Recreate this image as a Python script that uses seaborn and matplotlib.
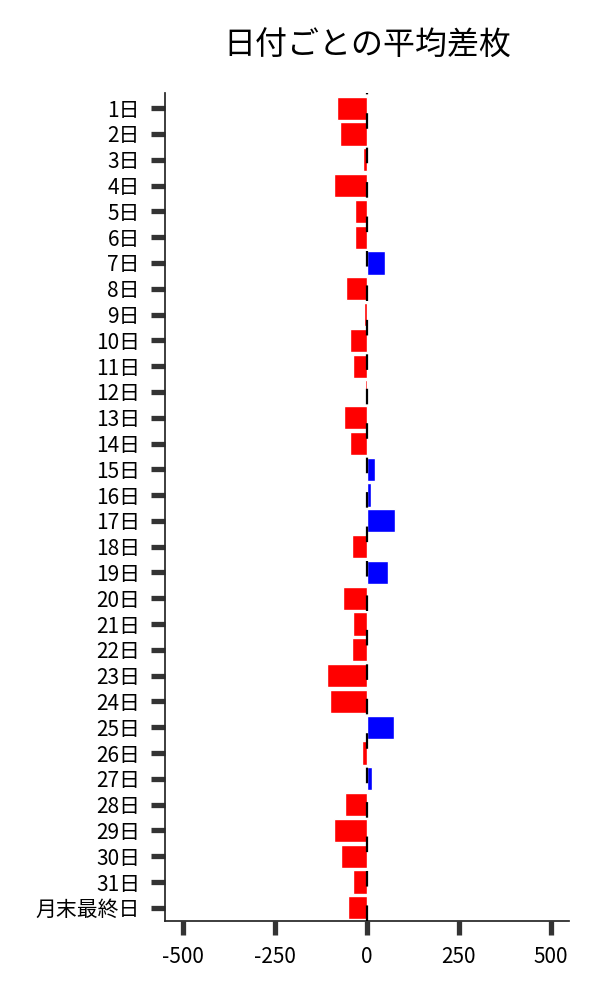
import pandas as pd
import matplotlib.pyplot as plt
import seaborn as sns

# 日付ごとの平均差枚
days = ['1日', '2日', '3日', '4日', '5日', '6日', '7日', '8日', '9日', '10日',
        '11日', '12日', '13日', '14日', '15日', '16日', '17日', '18日', '19日', '20日',
        '21日', '22日', '23日', '24日', '25日', '26日', '27日', '28日', '29日', '30日',
        '31日', '月末最終日']
avg_diff = [-83, -73, -11, -89, -34, -34, 50, -56, -8, -45,
            -37, -5, -62, -45, 22, 11, 77, -41, 57, -65,
            -38, -41, -110, -102, 74, -14, 14, -59, -89, -72,
            -38, -52]
x_ticks = [-500, -250, 0, 250, 500]

df = pd.DataFrame({'day': days, 'diff': avg_diff})
df['sign'] = ['plus' if v > 0 else 'minus' for v in df['diff']]

sns.set_theme(style='ticks')
plt.rcParams['font.family'] = ['Noto Sans CJK JP', 'DejaVu Sans']
plt.rcParams['axes.unicode_minus'] = False

fig, ax = plt.subplots(figsize=(6, 10), dpi=100)
fig.subplots_adjust(left=165 / 600, right=569 / 600, top=1 - 92.7 / 1000, bottom=1 - 920.7 / 1000)

sns.barplot(data=df, x='diff', y='day', hue='sign', order=days,
            palette={'plus': '#0000ff', 'minus': '#ff0000'},
            dodge=False, width=0.9, saturation=1, legend=False, ax=ax)

# dashed zero line
ax.axvline(-0.5, color='black', lw=1.6, ls=(0, (7, 8.5)), zorder=3)

ax.set_xlim(-550, 550)
ax.set_ylim(len(days) - 0.5, -0.6)
ax.set_xticks(x_ticks)
ax.set_xlabel('')
ax.set_ylabel('')
ax.tick_params(length=10, width=3.8, pad=8, labelsize=15, color='.2', labelcolor='black')
sns.despine(ax=ax)
ax.set_title('日付ごとの平均差枚', fontsize=23, pad=27, color='black')

plt.savefig('out.png', dpi=100)
